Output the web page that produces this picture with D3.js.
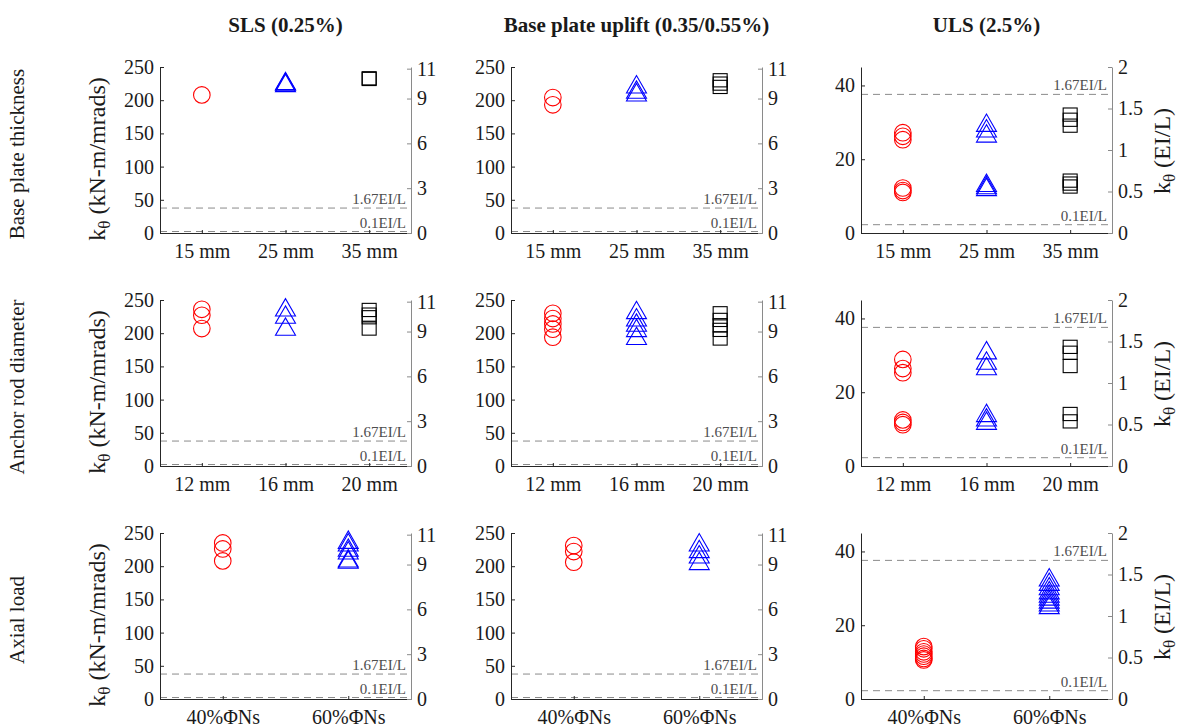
<!DOCTYPE html>
<html>
<head>
<meta charset="utf-8">
<script src="https://cdn.jsdelivr.net/npm/d3@7"></script>
<style>
  html, body { margin: 0; padding: 0; background: #fff; }
  svg text { font-family: "Liberation Serif", "Times New Roman", serif; fill: #1a1a1a; }
</style>
</head>
<body>
<svg id="chart" width="1179" height="728" font-family="Liberation Serif, Times New Roman, serif"></svg>
<script>
// ---- Data -----------------------------------------------------------
const COL_TITLES = ['SLS (0.25%)', 'Base plate uplift (0.35/0.55%)', 'ULS (2.5%)'];
const ROW_TITLES = ['Base plate thickness', 'Anchor rod diameter', 'Axial load'];
const CATEGORIES = [
  ['15 mm', '25 mm', '35 mm'],
  ['12 mm', '16 mm', '20 mm'],
  ['40%ΦNs', '60%ΦNs'],
];

const EI_L = 22.5;                 // kN-m/mrad per EI/L
const REF_LINES = [1.67, 0.1];     // in EI/L
const REF_LABELS = ['1.67EI/L', '0.1EI/L'];

const Y_MAX = [250, 250, 45];
const LEFT_TICKS = [[0, 50, 100, 150, 200, 250], [0, 50, 100, 150, 200, 250], [0, 20, 40]];
const RIGHT_TICKS = [[0, 3, 6, 9, 11], [0, 3, 6, 9, 11], [0, 0.5, 1, 1.5, 2]];

// k0 values (kN-m/mrad), one list per category
const thickSLS    = [[208], [226, 228, 229], [232, 233]];
const thickUplift = [[204, 193], [224, 216, 212], [230, 225, 220]];
const thickULS    = [[27.2, 26.2, 25.3, 12.2, 11.5, 11.0], [29.9, 28.4, 27.0, 13.6, 13.0, 12.5], [32.1, 30.7, 29.1, 14.2, 13.4, 12.6]];
const rodSLS      = [[236, 227, 207], [239, 228, 210], [235, 228, 224, 207]];
const rodUplift   = [[230, 222, 214, 206, 194], [235, 224, 216, 208, 196], [230, 220, 212, 205, 192]];
const rodULS      = [[28.9, 26.4, 25.3, 12.5, 11.8, 11.2], [31.4, 28.6, 27.1, 14.4, 13.2, 12.3], [32.3, 30.7, 27.1, 14.1, 12.1]];
const axialSLS    = [[235, 226, 208], [240, 236, 228, 224, 212, 210]];
const axialUplift = [[231, 222, 206], [236, 226, 218, 208]];
const axialULS    = [[14.2, 13.6, 12.8, 12.2, 11.6, 11.0, 10.6], [33.0, 31.8, 30.6, 29.5, 28.6, 27.8, 27.0, 26.2, 25.5]];

const VALUES = [
  [thickSLS, thickUplift, thickULS],
  [rodSLS, rodUplift, rodULS],
  [axialSLS, axialUplift, axialULS],
];

const MARKERS = ['circle', 'triangle', 'square'];
const MARKER_COLORS = ['#ff0000', '#0000ff', '#000000'];

// ---- Layout ---------------------------------------------------------
const FONT = 'Liberation Serif, Times New Roman, serif';
const PANEL_X = [160, 511, 861];
const PANEL_Y = [67, 300, 533];
const PANEL_W = 251;
const PANEL_H = 166;

const svg = d3.select('#chart');

// column titles
COL_TITLES.forEach((t, c) => {
  svg.append('text')
    .attr('x', PANEL_X[c] + PANEL_W / 2)
    .attr('y', 32)
    .attr('text-anchor', 'middle')
    .attr('font-size', 21)
    .attr('font-weight', 'bold')
    .text(t);
});

// row titles
ROW_TITLES.forEach((t, r) => {
  svg.append('text')
    .attr('transform', `translate(24,${PANEL_Y[r] + PANEL_H / 2 + 4}) rotate(-90)`)
    .attr('text-anchor', 'middle')
    .attr('font-size', 21)
    .text(t);
});

function yLabel(g, x, y, unit) {
  const t = g.append('text')
    .attr('transform', `translate(${x},${y}) rotate(-90)`)
    .attr('text-anchor', 'middle')
    .attr('font-size', 24);
  t.append('tspan').text('k');
  t.append('tspan').attr('font-size', 17).attr('dy', 5).text('θ');
  t.append('tspan').attr('dy', -5).text(' (' + unit + ')');
}

for (let r = 0; r < 3; r++) {
  for (let c = 0; c < 3; c++) {
    const x0 = PANEL_X[c], x1 = x0 + PANEL_W;
    const y0 = PANEL_Y[r], y1 = y0 + PANEL_H;
    const cats = CATEGORIES[r];
    const data = VALUES[r][c];

    const x = d3.scaleLinear().domain([0.5, cats.length + 0.5]).range([x0, x1]);
    const yL = d3.scaleLinear().domain([0, Y_MAX[c]]).range([y1, y0]);
    const yR = d3.scaleLinear().domain([0, Y_MAX[c] / EI_L]).range([y1, y0]);

    const g = svg.append('g');

    // reference lines
    REF_LINES.forEach((v, i) => {
      const yy = yR(v);
      g.append('line')
        .attr('x1', x0).attr('x2', x1)
        .attr('y1', yy).attr('y2', yy)
        .attr('stroke', '#8a8a8a')
        .attr('stroke-width', 1)
        .attr('stroke-dasharray', '7,5');
      g.append('text')
        .attr('x', x1 - 5)
        .attr('y', yy - 4)
        .attr('text-anchor', 'end')
        .attr('font-size', 15)
        .style('fill', '#4d4d4d')
        .text(REF_LABELS[i]);
    });

    // axes
    const ax = g.append('g').attr('transform', `translate(0,${y1})`)
      .call(d3.axisBottom(x)
        .tickValues(d3.range(1, cats.length + 1))
        .tickFormat(i => cats[i - 1])
        .tickSize(-3).tickSizeOuter(0).tickPadding(11));

    const al = g.append('g').attr('transform', `translate(${x0},0)`)
      .call(d3.axisLeft(yL)
        .tickValues(LEFT_TICKS[c])
        .tickSize(-4).tickSizeOuter(0).tickPadding(6));

    const ar = g.append('g').attr('transform', `translate(${x1},0)`)
      .call(d3.axisRight(yR)
        .tickValues(RIGHT_TICKS[c])
        .tickFormat(d => String(d))
        .tickSize(-4).tickSizeOuter(0).tickPadding(6));
    ar.select('.domain').attr('stroke', '#8a8a8a');
    ar.selectAll('.tick line').attr('stroke', '#8a8a8a');

    [ax, al, ar].forEach(a => {
      a.attr('font-family', FONT).attr('font-size', 20);
      a.selectAll('text').style('fill', '#1a1a1a');
    });
    [ax, al].forEach(a => a.selectAll('.domain, .tick line').attr('stroke', '#262626'));

    // markers
    data.forEach((vals, k) => {
      const color = MARKER_COLORS[k];
      const type = MARKERS[k];
      const cx = x(k + 1);
      vals.forEach(v => {
        const cy = yL(v);
        if (type === 'circle') {
          g.append('circle').attr('cx', cx).attr('cy', cy).attr('r', 8.3)
            .attr('fill', 'none').attr('stroke', color).attr('stroke-width', 1.1);
        } else if (type === 'triangle') {
          g.append('path')
            .attr('d', `M${cx},${cy - 8.7}L${cx - 10},${cy + 8.7}L${cx + 10},${cy + 8.7}Z`)
            .attr('fill', 'none').attr('stroke', color).attr('stroke-width', 1.1);
        } else {
          g.append('rect').attr('x', cx - 7).attr('y', cy - 6.6)
            .attr('width', 14).attr('height', 13.2)
            .attr('fill', 'none').attr('stroke', color).attr('stroke-width', 1.1);
        }
      });
    });

    if (c === 0) yLabel(g, 105, (y0 + y1) / 2 + 9, 'kN-m/mrads');
    if (c === 2) yLabel(g, 1170, (y0 + y1) / 2 + 1, 'EI/L');
  }
}
</script>
</body>
</html>
